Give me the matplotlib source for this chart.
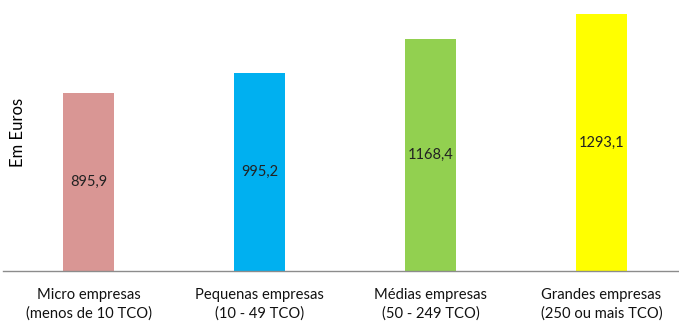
import matplotlib
matplotlib.use("Agg")
import matplotlib.pyplot as plt

categories = ["Micro empresas\n(menos de 10 TCO)", "Pequenas empresas\n(10 - 49 TCO)",
              "Médias empresas\n(50 - 249 TCO)", "Grandes empresas\n(250 ou mais TCO)"]
values = [895.9, 995.2, 1168.4, 1293.1]
value_labels = ["895,9", "995,2", "1168,4", "1293,1"]
colors = ["#D99694", "#00B0F0", "#92D050", "#FFFF00"]

plt.rcParams['font.family'] = ['Lato', 'DejaVu Sans']

W, H = 679, 322
fig = plt.figure(figsize=(W / 100, H / 100), dpi=100)
# axes spans from the category axis line at y=271 up to the top edge
ax = fig.add_axes([3 / W, (H - 271) / H, (W - 3) / W, 271 / H])

x = list(range(len(values)))
ax.bar(x, values, width=0.298, color=colors)
ax.set_xlim(-0.5, 3.453)
ax.set_ylim(0, 1363.5)

for xi, v, lab in zip(x, values, value_labels):
    ax.text(xi, v / 2, lab, ha="center", va="center", fontsize=10.5, color="#222222")

for s in ["top", "right", "left"]:
    ax.spines[s].set_visible(False)
ax.spines["bottom"].set_color("#8C8C8C")
ax.spines["bottom"].set_linewidth(1.0)
ax.set_yticks([])
ax.set_xticks(x)
ax.set_xticklabels(categories, fontsize=10.6, color="#111111", linespacing=1.4)
ax.tick_params(axis="x", length=0, pad=12)

fig.text(18 / W, 1 - 132 / H, "Em Euros", rotation=90, ha="center", va="center",
         fontsize=12, color="black")

fig.savefig("out.png", dpi=100)
